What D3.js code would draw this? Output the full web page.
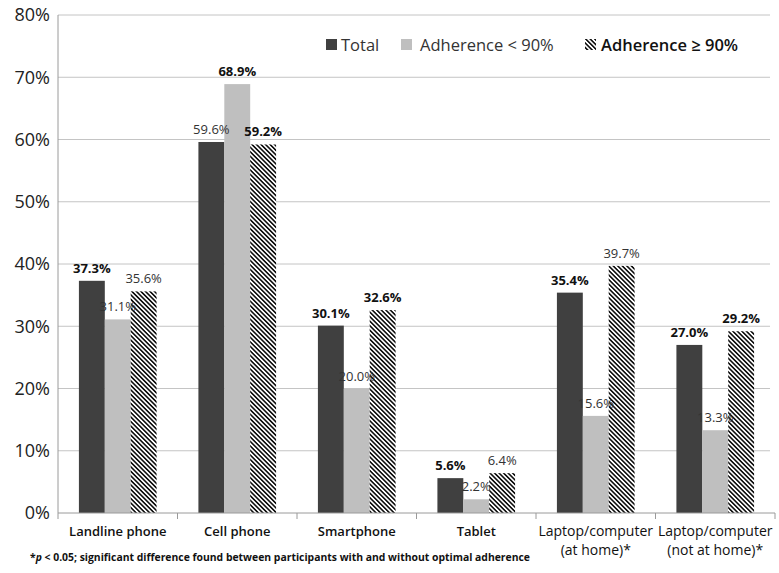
<!DOCTYPE html>
<html>
<head>
<meta charset="utf-8">
<script src="https://cdn.jsdelivr.net/npm/d3@7"></script>
<style>
  body { margin: 0; background: #fff; }
  svg { font-family: "Open Sans", "DejaVu Sans", sans-serif; }
</style>
</head>
<body>
<svg id="chart"></svg>
<script>
const categories = [
  ["Landline phone"],
  ["Cell phone"],
  ["Smartphone"],
  ["Tablet"],
  ["Laptop/computer", "(at home)*"],
  ["Laptop/computer", "(not at home)*"]
];
const seriesNames = ["Total", "Adherence < 90%", "Adherence \u2265 90%"];
const total = [37.3, 59.6, 30.1, 5.6, 35.4, 27.0];
const adherenceLow = [31.1, 68.9, 20.0, 2.2, 15.6, 13.3];
const adherenceHigh = [35.6, 59.2, 32.6, 6.4, 39.7, 29.2];
const yTicks = [0, 10, 20, 30, 40, 50, 60, 70, 80];
const footnote = "; significant difference found between participants with and without optimal adherence";

// which value labels look bold in the original
const boldLabels = [
  [true, false, true, true, true, true],
  [false, true, false, false, false, false],
  [false, true, true, false, false, true]
];

const width = 779, height = 573;
const margin = { top: 15, right: 4, bottom: 60, left: 58 };
const svg = d3.select("#chart").attr("width", width).attr("height", height);

const x0 = d3.scaleBand()
  .domain(d3.range(categories.length))
  .range([margin.left, width - margin.right])
  .paddingInner(0.35).paddingOuter(0.175);
const bandStep = x0.step();
const x1 = d3.scaleBand().domain(d3.range(3)).range([0, x0.bandwidth()]);
const y = d3.scaleLinear().domain([0, 80]).range([height - margin.bottom, margin.top]);

const colors = ["#404040", "#bfbfbf", "url(#hatch)"];

// hatch pattern
const defs = svg.append("defs");
const pat = defs.append("pattern")
  .attr("id", "hatch")
  .attr("patternUnits", "userSpaceOnUse")
  .attr("width", 3.2).attr("height", 3.2)
  .attr("patternTransform", "rotate(45)");
pat.append("rect").attr("width", 3.2).attr("height", 3.2).attr("fill", "#fff");
pat.append("rect").attr("width", 3.2).attr("height", 1.6).attr("fill", "#111");

// gridlines
svg.append("g")
  .selectAll("line")
  .data(yTicks.slice(1))
  .join("line")
  .attr("x1", margin.left).attr("x2", width - 9)
  .attr("y1", d => y(d)).attr("y2", d => y(d))
  .attr("stroke", "#c4c4c4").attr("stroke-width", 1);

// y axis
svg.append("line")
  .attr("x1", margin.left).attr("x2", margin.left)
  .attr("y1", y(80)).attr("y2", y(0))
  .attr("stroke", "#9a9a9a");
svg.append("g")
  .selectAll("text")
  .data(yTicks)
  .join("text")
  .attr("x", 50).attr("y", d => y(d))
  .attr("dy", "0.36em")
  .attr("text-anchor", "end")
  .attr("font-size", 18)
  .attr("fill", "#222")
  .text(d => d + "%");

// bars
const series = [total, adherenceLow, adherenceHigh];
const gSeries = svg.append("g").selectAll("g")
  .data(series)
  .join("g")
  .attr("fill", (d, i) => colors[i]);
gSeries.selectAll("rect")
  .data((d, si) => d.map((v, ci) => ({ v, ci, si })))
  .join("rect")
  .attr("x", d => x0(d.ci) + x1(d.si))
  .attr("width", x1.bandwidth())
  .attr("y", d => y(d.v))
  .attr("height", d => y(0) - y(d.v));

// value labels
svg.append("g").selectAll("g")
  .data(series)
  .join("g")
  .selectAll("text")
  .data((d, si) => d.map((v, ci) => ({ v, ci, si })))
  .join("text")
  .attr("x", d => x0(d.ci) + x1(d.si) + x1.bandwidth() / 2)
  .attr("y", d => y(d.v) - 8)
  .attr("text-anchor", "middle")
  .attr("font-size", 13)
  .attr("font-weight", d => boldLabels[d.si][d.ci] ? 700 : 400)
  .attr("fill", d => boldLabels[d.si][d.ci] ? "#111" : "#333")
  .text(d => d3.format(".1f")(d.v) + "%");

// x axis
svg.append("line")
  .attr("x1", margin.left).attr("x2", width - margin.right)
  .attr("y1", y(0)).attr("y2", y(0))
  .attr("stroke", "#9a9a9a");
svg.append("g").selectAll("line")
  .data(d3.range(categories.length + 1))
  .join("line")
  .attr("x1", i => margin.left + i * bandStep)
  .attr("x2", i => margin.left + i * bandStep)
  .attr("y1", y(0)).attr("y2", y(0) + 6)
  .attr("stroke", "#9a9a9a");

const catLabel = svg.append("g").selectAll("text")
  .data(categories)
  .join("text")
  .attr("x", (d, i) => x0(i) + x0.bandwidth() / 2)
  .attr("y", y(0) + 23)
  .attr("text-anchor", "middle")
  .attr("font-size", d => d.length > 1 ? 14 : 13)
  .attr("font-weight", d => d.length > 1 ? 400 : 600)
  .attr("fill", "#111");
catLabel.selectAll("tspan")
  .data(d => d)
  .join("tspan")
  .attr("x", function () { return d3.select(this.parentNode).attr("x"); })
  .attr("dy", (d, i) => i === 0 ? 0 : 19)
  .text(d => d);

// footnote
const fn = svg.append("text")
  .attr("x", 30).attr("y", 561)
  .attr("font-size", 10.4)
  .attr("font-weight", 700)
  .attr("fill", "#111");
fn.append("tspan").text("*");
fn.append("tspan").attr("font-style", "italic").text("p");
fn.append("tspan").text(" < 0.05" + footnote);

// legend
const legendSwatchX = [326, 401, 585];
const legendTextX = [341, 420, 601];
const legend = svg.append("g").selectAll("g")
  .data(seriesNames)
  .join("g")
  .attr("transform", "translate(0,45)");
legend.append("rect")
  .attr("x", (d, i) => legendSwatchX[i]).attr("y", -6)
  .attr("width", 11).attr("height", 11)
  .attr("fill", (d, i) => colors[i]);
legend.append("text")
  .attr("x", (d, i) => legendTextX[i]).attr("y", 0)
  .attr("dy", "0.35em")
  .attr("font-size", 16.5)
  .attr("font-weight", (d, i) => i === 2 ? 600 : 400)
  .attr("fill", (d, i) => i === 2 ? "#111" : "#333")
  .text(d => d);
</script>
</body>
</html>
